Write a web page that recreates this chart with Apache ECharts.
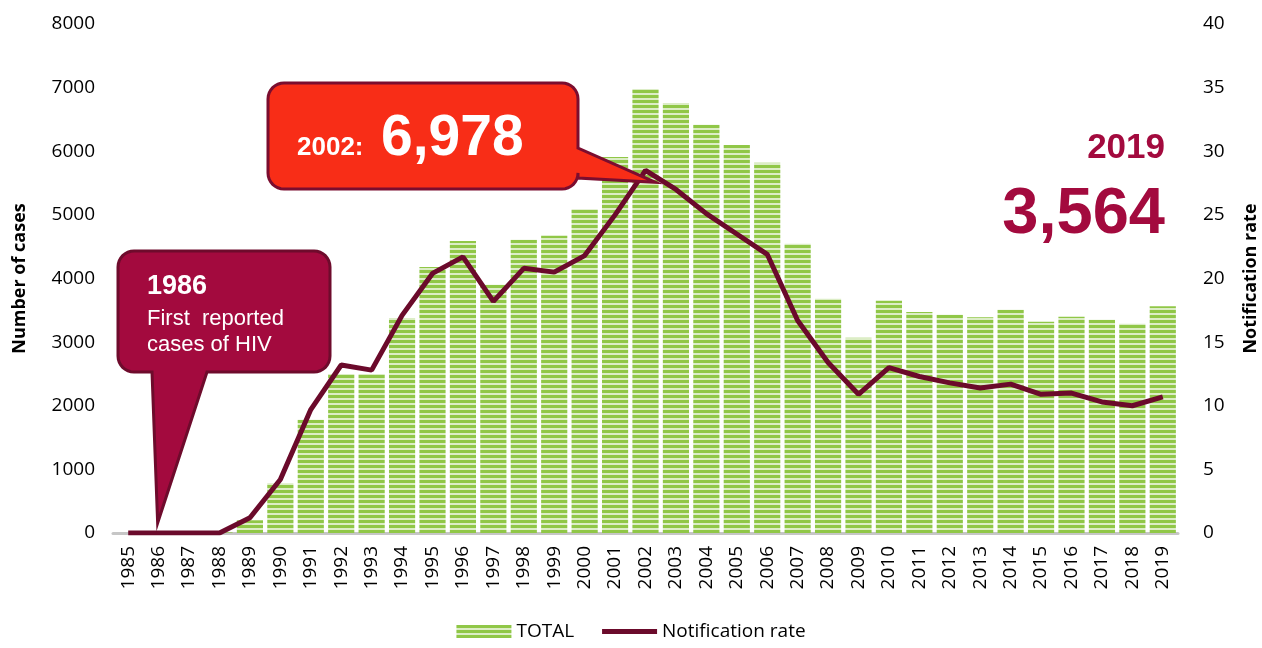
<!DOCTYPE html>
<html>
<head>
<meta charset="utf-8">
<script src="https://cdn.jsdelivr.net/npm/echarts@6/dist/echarts.min.js"></script>
<style>
  html, body { margin: 0; padding: 0; background: #fff; }
  #main { width: 1262px; height: 648px; }
</style>
</head>
<body>
<div id="main"></div>
<script>
// categories: reporting years
const years = ['1985', '1986', '1987', '1988', '1989', '1990', '1991', '1992', '1993', '1994',
  '1995', '1996', '1997', '1998', '1999', '2000', '2001', '2002', '2003', '2004',
  '2005', '2006', '2007', '2008', '2009', '2010', '2011', '2012', '2013', '2014',
  '2015', '2016', '2017', '2018', '2019'];

// TOTAL number of cases (left axis)
const totalCases = [0, 0, 0, 10, 200, 780, 1780, 2500, 2500, 3380,
  4180, 4590, 3900, 4610, 4670, 5090, 5910, 6978, 6760, 6415,
  6100, 5820, 4545, 3680, 3070, 3650, 3475, 3430, 3390, 3510,
  3320, 3400, 3350, 3290, 3564];

// notification rate (right axis)
const notificationRate = [0, 0, 0, 0, 1.2, 4.2, 9.7, 13.2, 12.8, 17.1,
  20.4, 21.7, 18.2, 20.8, 20.5, 21.8, 25.0, 28.5, 27.0, 25.1,
  23.5, 21.9, 16.7, 13.4, 10.9, 13.0, 12.3, 11.8, 11.4, 11.7,
  10.9, 11.0, 10.3, 10.0, 10.7];

const FONT = '"Open Sans", "Liberation Sans", sans-serif';
const BOLD = '"Liberation Sans", Arial, sans-serif';
const LINE_COLOR = '#6b0a2b';
const MAROON = '#a30a3e';

// striped green fill for the bars
function stripePattern() {
  const c = document.createElement('canvas');
  c.width = 4; c.height = 5;
  const ctx = c.getContext('2d');
  ctx.fillStyle = '#dcedc6';
  ctx.fillRect(0, 0, 4, 5);
  ctx.fillStyle = '#90c747';
  ctx.fillRect(0, 0, 4, 3);
  return { image: c, repeat: 'repeat' };
}

// rounded box with a pointer, as polygon points
function roundedArc(pts, cx, cy, r, a0, a1) {
  const n = 8;
  for (let i = 0; i <= n; i++) {
    const a = a0 + (a1 - a0) * i / n;
    pts.push([cx + r * Math.cos(a), cy + r * Math.sin(a)]);
  }
}
function calloutPoints(x, y, w, h, r, tail) {
  const pts = [];
  const P = Math.PI;
  roundedArc(pts, x + w - r, y + r, r, -P / 2, 0);          // top-right
  if (tail.side === 'right') {
    pts.push([x + w, tail.a]); pts.push(tail.tip); pts.push([x + w, tail.b]);
  }
  roundedArc(pts, x + w - r, y + h - r, r, 0, P / 2);       // bottom-right
  if (tail.side === 'bottom') {
    pts.push([tail.a, y + h]); pts.push(tail.tip); pts.push([tail.b, y + h]);
  }
  roundedArc(pts, x + r, y + h - r, r, P / 2, P);           // bottom-left
  roundedArc(pts, x + r, y + r, r, P, P * 1.5);             // top-left
  return pts;
}

const chart = echarts.init(document.getElementById('main'));

const option = {
  animation: false,
  grid: { left: 113, right: 84, top: 24, bottom: 115, outerBoundsMode: 'none' },
  legend: {
    bottom: 2,
    left: 'center',
    itemWidth: 55,
    itemHeight: 13,
    itemGap: 28,
    textStyle: { fontFamily: FONT, fontSize: 19, color: '#000' },
    data: [
      { name: 'TOTAL', icon: 'rect' },
      { name: 'Notification rate', icon: 'path://M0,0 H110 V10 H0 Z' }
    ]
  },
  xAxis: {
    type: 'category',
    data: years,
    axisLine: { lineStyle: { color: '#c6c6c6', width: 3 } },
    axisTick: { show: false },
    axisLabel: { rotate: 90, fontFamily: FONT, fontSize: 19, color: '#000', margin: 13, interval: 0 }
  },
  yAxis: [
    {
      type: 'value',
      min: 0, max: 8000, interval: 1000,
      name: 'Number of cases',
      nameLocation: 'middle',
      nameRotate: 90,
      nameGap: 84,
      nameTextStyle: { fontFamily: FONT, fontWeight: 'bold', fontSize: 18, color: '#000' },
      axisLine: { show: false },
      axisTick: { show: false },
      splitLine: { show: false },
      axisLabel: { fontFamily: FONT, fontSize: 19, color: '#000', margin: 18, formatter: v => String(v) }
    },
    {
      type: 'value',
      min: 0, max: 40, interval: 5,
      name: 'Notification rate',
      nameLocation: 'middle',
      nameRotate: 90,
      nameGap: 64,
      nameTextStyle: { fontFamily: FONT, fontWeight: 'bold', fontSize: 18, color: '#000' },
      axisLine: { show: false },
      axisTick: { show: false },
      splitLine: { show: false },
      axisLabel: { fontFamily: FONT, fontSize: 19, color: '#000', margin: 25 }
    }
  ],
  series: [
    {
      name: 'TOTAL',
      type: 'bar',
      data: totalCases,
      barCategoryGap: '14%',
      itemStyle: { color: stripePattern() }
    },
    {
      name: 'Notification rate',
      type: 'line',
      yAxisIndex: 1,
      data: notificationRate,
      symbol: 'none',
      lineStyle: { color: LINE_COLOR, width: 5 },
      itemStyle: { color: LINE_COLOR },
      z: 5
    }
  ]
};

chart.setOption(option);

// annotations: pointers aim at the data points
const peakIdx = years.indexOf('2002');
const peakPt = chart.convertToPixel({ xAxisIndex: 0, yAxisIndex: 1 }, [peakIdx, notificationRate[peakIdx]]);
const firstIdx = years.indexOf('1986');
const firstPt = chart.convertToPixel({ xAxisIndex: 0, yAxisIndex: 1 }, [firstIdx, 0]);

chart.setOption({
  graphic: [
    {
      type: 'polygon',
      z: 100,
      shape: {
        points: calloutPoints(268, 83, 310, 106, 16, {
          side: 'right', a: 148, b: 178, tip: [peakPt[0] + 10, peakPt[1] + 12]
        })
      },
      style: { fill: '#f82d17', stroke: '#7b0d2f', lineWidth: 3 }
    },
    {
      type: 'text', z: 101, left: 297, top: 135,
      style: { text: '2002:', font: 'bold 26px ' + BOLD, fill: '#fff' }
    },
    {
      type: 'text', z: 101, left: 381, top: 111,
      style: { text: '6,978', font: 'bold 57px ' + BOLD, fill: '#fff' }
    },
    {
      type: 'polygon',
      z: 100,
      shape: {
        points: calloutPoints(118, 251, 212, 121, 16, {
          side: 'bottom', a: 207, b: 152, tip: [firstPt[0] - 1, firstPt[1] - 10]
        })
      },
      style: { fill: MAROON, stroke: '#6e0b2c', lineWidth: 3 }
    },
    {
      type: 'text', z: 101, left: 147, top: 273,
      style: { text: '1986', font: 'bold 27px ' + BOLD, fill: '#fff' }
    },
    {
      type: 'text', z: 101, left: 147, top: 306,
      style: { text: 'First  reported\ncases of HIV', font: '22px ' + BOLD, lineHeight: 26, fill: '#fff' }
    },
    {
      type: 'text', z: 101, right: 97, top: 131,
      style: { text: '2019', font: 'bold 35px ' + BOLD, fill: MAROON }
    },
    {
      type: 'text', z: 101, right: 97, top: 183,
      style: { text: '3,564', font: 'bold 65px ' + BOLD, fill: MAROON }
    }
  ]
});

window.addEventListener('resize', () => chart.resize());
</script>
</body>
</html>
